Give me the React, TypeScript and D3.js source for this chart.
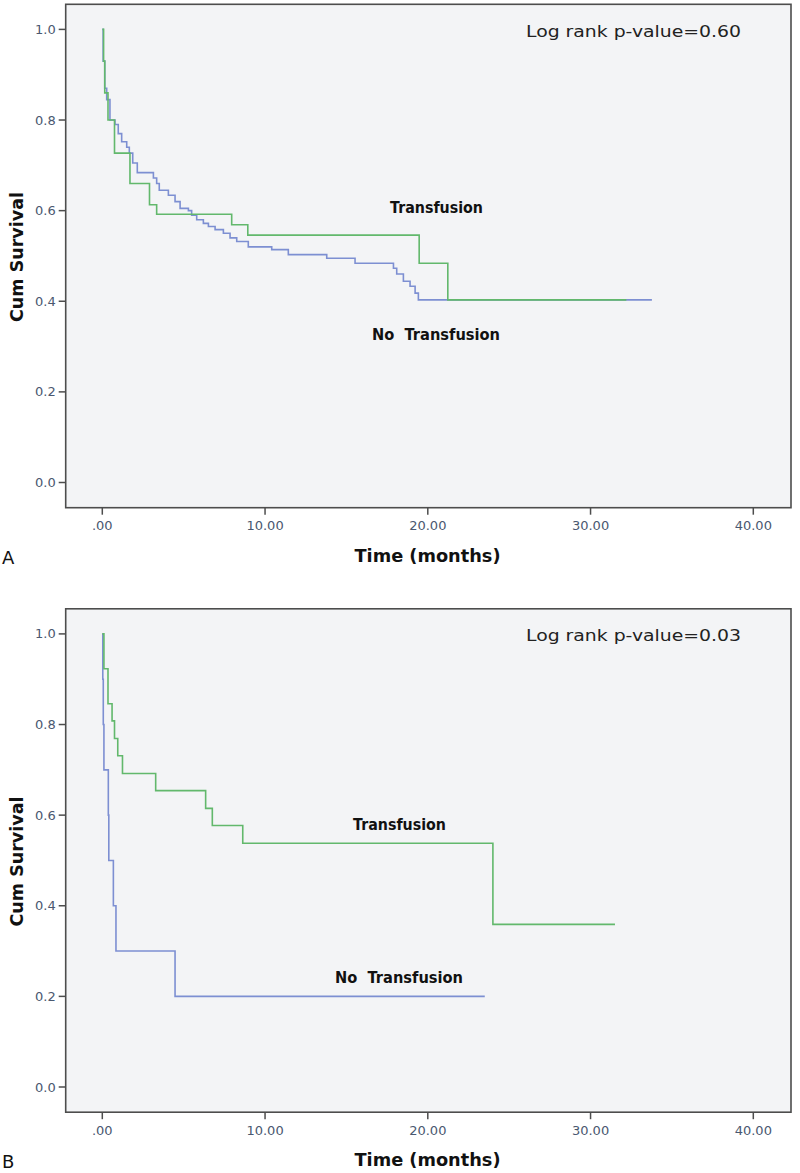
import React from "react";
import * as d3 from "d3";

// ---------- data ----------
const xTickValues = [0, 10, 20, 30, 40];
const xTickLabels = [".00", "10.00", "20.00", "30.00", "40.00"];
const yTickValues = [0, 0.2, 0.4, 0.6, 0.8, 1.0];
const yTickLabels = ["0.0", "0.2", "0.4", "0.6", "0.8", "1.0"];

// Panel A
const aTransTimes = [0, 0.08, 0.15, 0.35, 0.75, 1.7, 2.9, 3.34, 7.95, 8.94, 19.47, 21.23, 32.2];
const aTransSurv = [1.0, 0.93, 0.86, 0.8, 0.727, 0.66, 0.613, 0.592, 0.569, 0.546, 0.484, 0.403, 0.403];
const aNoTransTimes = [0, 0.05, 0.15, 0.27, 0.47, 0.78, 0.98, 1.19, 1.5, 1.66, 1.87, 2.15, 3.14, 3.34, 3.5, 4.06, 4.47, 4.78, 5.29, 5.49, 5.8, 6.21, 6.52, 6.93, 7.44, 7.85, 8.26, 8.97, 10.41, 11.43, 13.79, 15.53, 17.89, 18.09, 18.5, 18.91, 19.22, 19.42, 33.77];
const aNoTransSurv = [1.0, 0.93, 0.87, 0.845, 0.8, 0.79, 0.77, 0.752, 0.74, 0.727, 0.705, 0.684, 0.672, 0.66, 0.645, 0.634, 0.62, 0.605, 0.6, 0.59, 0.58, 0.572, 0.565, 0.558, 0.55, 0.54, 0.532, 0.52, 0.514, 0.503, 0.495, 0.484, 0.473, 0.46, 0.444, 0.433, 0.418, 0.403, 0.403];

// Panel B
const bTransTimes = [0, 0.1, 0.35, 0.6, 0.75, 0.95, 1.24, 3.28, 6.35, 6.76, 8.63, 24.0, 31.5];
const bTransSurv = [1.0, 0.923, 0.846, 0.808, 0.769, 0.731, 0.692, 0.654, 0.615, 0.577, 0.538, 0.359, 0.359];
const bNoTransTimes = [0, 0.03, 0.06, 0.1, 0.37, 0.4, 0.68, 0.84, 4.47, 23.5];
const bNoTransSurv = [1.0, 0.9, 0.8, 0.7, 0.6, 0.5, 0.4, 0.3, 0.2, 0.2];

const panels = [
  {
    letter: "A",
    pvalue: "Log rank p-value=0.60",
    trans: { t: aTransTimes, s: aTransSurv },
    noTrans: { t: aNoTransTimes, s: aNoTransSurv },
    transLabel: { x: 390, y: 213 },
    noTransLabel: { x: 372, y: 340 },
  },
  {
    letter: "B",
    pvalue: "Log rank p-value=0.03",
    trans: { t: bTransTimes, s: bTransSurv },
    noTrans: { t: bNoTransTimes, s: bNoTransSurv },
    transLabel: { x: 353, y: 830 - 604.5 },
    noTransLabel: { x: 335, y: 983 - 604.5 },
  },
];

const GREEN = "#62b86c";
const BLUE = "#7d8fd2";
const TICK_COLOR = "#4a5870";
const FRAME = "#4d4d4d";

function Panel({ p, offsetY }: { p: any; offsetY: number }) {
  const frame = { left: 65.7, right: 791, top: 4.3, bottom: 507.7 };
  const x = d3.scaleLinear().domain([0, 40]).range([102.3, 753.3]);
  const y = d3.scaleLinear().domain([0, 1]).range([482.5, 29.4]);
  const line = d3
    .line<[number, number]>()
    .x((d) => x(d[0]))
    .y((d) => y(d[1]))
    .curve(d3.curveStepAfter);
  const pts = (ser: { t: number[]; s: number[] }) =>
    ser.t.map((t, i) => [t, ser.s[i]] as [number, number]);

  return (
    <g transform={`translate(0,${offsetY})`}>
      <rect
        x={frame.left}
        y={frame.top}
        width={frame.right - frame.left}
        height={frame.bottom - frame.top}
        fill="#f3f4f6"
        stroke={FRAME}
        strokeWidth={1.6}
      />
      {/* y ticks */}
      {yTickValues.map((v, i) => (
        <g key={"y" + i}>
          <line x1={frame.left - 7} x2={frame.left} y1={y(v)} y2={y(v)} stroke={FRAME} strokeWidth={1.5} />
          <text
            x={frame.left - 10}
            y={y(v)}
            dy="0.35em"
            textAnchor="end"
            fontFamily="DejaVu Sans"
            fontSize={13}
            fill={TICK_COLOR}
          >
            {yTickLabels[i]}
          </text>
        </g>
      ))}
      {/* x ticks */}
      {xTickValues.map((v, i) => (
        <g key={"x" + i}>
          <line x1={x(v)} x2={x(v)} y1={frame.bottom} y2={frame.bottom + 7} stroke={FRAME} strokeWidth={1.5} />
          <text
            x={x(v)}
            y={frame.bottom + 22.5}
            textAnchor="middle"
            fontFamily="DejaVu Sans"
            fontSize={13}
            fill={TICK_COLOR}
          >
            {xTickLabels[i]}
          </text>
        </g>
      ))}
      {/* curves */}
      <path d={line(pts(p.noTrans)) || ""} fill="none" stroke={BLUE} strokeWidth={1.6} />
      <path d={line(pts(p.trans)) || ""} fill="none" stroke={GREEN} strokeWidth={1.6} />
      {/* labels */}
      <text
        x={p.transLabel.x}
        y={p.transLabel.y}
        fontFamily="DejaVu Sans"
        fontWeight="bold"
        fontSize={16}
        textLength={93}
        lengthAdjust="spacingAndGlyphs"
        fill="#111"
      >
        Transfusion
      </text>
      <text
        x={p.noTransLabel.x}
        y={p.noTransLabel.y}
        fontFamily="DejaVu Sans"
        fontWeight="bold"
        fontSize={16}
        textLength={128}
        lengthAdjust="spacingAndGlyphs"
        fill="#111"
        style={{ whiteSpace: "pre" }}
      >
        {"No  Transfusion"}
      </text>
      <text
        x={526}
        y={36.5}
        fontFamily="DejaVu Sans"
        fontSize={16}
        textLength={215}
        lengthAdjust="spacingAndGlyphs"
        fill="#222"
      >
        {p.pvalue}
      </text>
      {/* axis titles */}
      <text
        x={427.5}
        y={frame.bottom + 54}
        textAnchor="middle"
        fontFamily="DejaVu Sans"
        fontWeight="bold"
        fontSize={18}
        textLength={146}
        lengthAdjust="spacingAndGlyphs"
        fill="#111"
      >
        Time (months)
      </text>
      <text
        transform={`translate(22.5,257) rotate(-90)`}
        textAnchor="middle"
        fontFamily="DejaVu Sans"
        fontWeight="bold"
        fontSize={17}
        textLength={130}
        lengthAdjust="spacingAndGlyphs"
        fill="#111"
      >
        Cum Survival
      </text>
      <text x={2} y={frame.bottom + 56} fontFamily="DejaVu Sans" fontSize={18} fill="#111">
        {p.letter}
      </text>
    </g>
  );
}

export default function App() {
  return (
    <svg
      width={800}
      height={1173}
      viewBox="0 0 800 1173"
      style={{ position: "absolute", left: 0, top: 0, display: "block", background: "#fff" }}
    >
      <rect x={0} y={0} width={800} height={1173} fill="#fff" />
      <Panel p={panels[0]} offsetY={0} />
      <Panel p={panels[1]} offsetY={604.5} />
    </svg>
  );
}
